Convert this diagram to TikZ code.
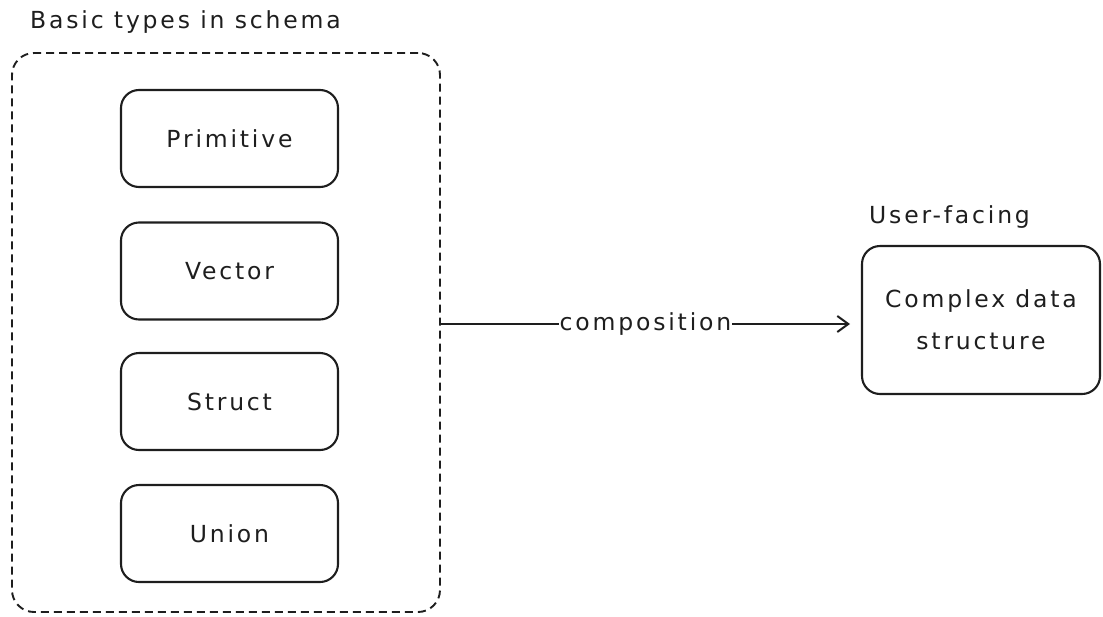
\documentclass[tikz,border=0pt]{standalone}
\usepackage{fontspec}
\setmainfont{DejaVu Sans}[LetterSpace=12]
\usetikzlibrary{arrows.meta}
\definecolor{ink}{HTML}{1E1E1E}
\tikzset{
  typebox/.style={draw=ink, line width=2.1pt, rounded corners=18pt,
    minimum width=217pt, minimum height=97pt, inner sep=0pt,
    font=\fontsize{23.5}{28}\selectfont, text=ink},
  groupbox/.style={draw=ink, line width=1.9pt, dash pattern=on 8pt off 5pt,
    rounded corners=22pt, minimum width=428pt, minimum height=559pt, inner sep=0pt},
  caption/.style={font=\fontsize{23.5}{28}\selectfont, text=ink, inner sep=0pt},
  flow/.style={draw=ink, line width=2.1pt, -{Straight Barb[length=11pt,width=16pt,line width=2pt]}},
}
\begin{document}
\begin{tikzpicture}[x=1pt,y=-1pt]
  \useasboundingbox (0,0) rectangle (1103,616);
  % container of the basic schema types
  \node[groupbox] (group) at (226,332.5) {};
  \node[caption, anchor=west] (grouptitle) at (30,22) {Basic types in schema};
  % the four basic types
  \node[typebox] (prim) at (229.5,138.5) {Primitive};
  \node[typebox] (vec) at (229.5,271) {Vector};
  \node[typebox] (struct) at (229.5,401.5) {Struct};
  \node[typebox] (union) at (229.5,533.5) {Union};
  % composed result
  \node[typebox, minimum width=238pt, minimum height=148pt, align=center,
        font=\fontsize{23.5}{42}\selectfont] (cplx) at (981,320) {Complex data\\structure};
  \node[caption, anchor=west] (cplxtitle) at (869,217) {User-facing};
  % composition arrow
  \coordinate (from) at (group.east |- 0,324);
  \coordinate (to) at (850,324);
  \draw[flow] (from) -- node[fill=white, caption, inner xsep=1pt, inner ysep=4pt] (complabel) {composition} (to);
\end{tikzpicture}
\end{document}
